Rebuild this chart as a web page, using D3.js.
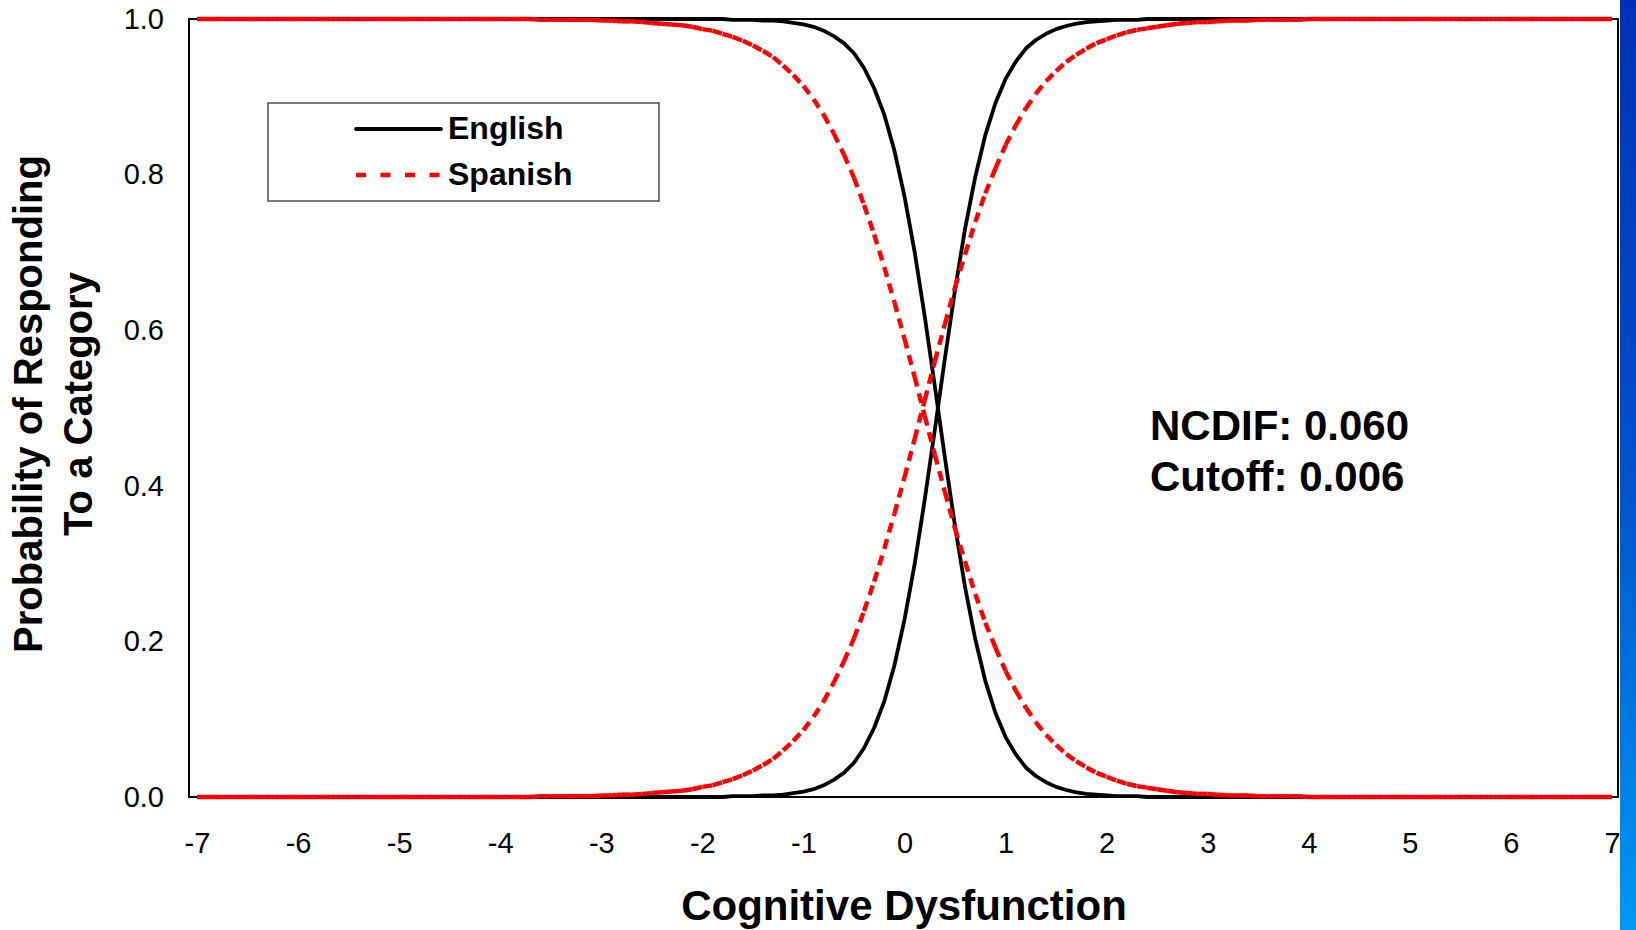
<!DOCTYPE html>
<html>
<head>
    <meta charset="utf-8">
    <title>Category Response Curves</title>
    <script src="https://d3js.org/d3.v7.min.js"></script>
    <style>
        body {
            margin: 0;
            background: #fff;
            overflow: hidden;
        }
        svg text {
            font-family: "Liberation Sans", Arial, sans-serif;
            fill: #000;
        }
        .tick text {
            font-size: 29px;
        }
        .title {
            font-weight: bold;
        }
    </style>
</head>
<body>
    <svg width="1636" height="930" id="chart"></svg>

    <script>
        // Theta grid (category axis, step 0.1)
        const theta = [
            -7.0, -6.9, -6.8, -6.7, -6.6, -6.5, -6.4, -6.3, -6.2, -6.1,
            -6.0, -5.9, -5.8, -5.7, -5.6, -5.5, -5.4, -5.3, -5.2, -5.1,
            -5.0, -4.9, -4.8, -4.7, -4.6, -4.5, -4.4, -4.3, -4.2, -4.1,
            -4.0, -3.9, -3.8, -3.7, -3.6, -3.5, -3.4, -3.3, -3.2, -3.1,
            -3.0, -2.9, -2.8, -2.7, -2.6, -2.5, -2.4, -2.3, -2.2, -2.1,
            -2.0, -1.9, -1.8, -1.7, -1.6, -1.5, -1.4, -1.3, -1.2, -1.1,
            -1.0, -0.9, -0.8, -0.7, -0.6, -0.5, -0.4, -0.3, -0.2, -0.1,
            0.0, 0.1, 0.2, 0.3, 0.4, 0.5, 0.6, 0.7, 0.8, 0.9,
            1.0, 1.1, 1.2, 1.3, 1.4, 1.5, 1.6, 1.7, 1.8, 1.9,
            2.0, 2.1, 2.2, 2.3, 2.4, 2.5, 2.6, 2.7, 2.8, 2.9,
            3.0, 3.1, 3.2, 3.3, 3.4, 3.5, 3.6, 3.7, 3.8, 3.9,
            4.0, 4.1, 4.2, 4.3, 4.4, 4.5, 4.6, 4.7, 4.8, 4.9,
            5.0, 5.1, 5.2, 5.3, 5.4, 5.5, 5.6, 5.7, 5.8, 5.9,
            6.0, 6.1, 6.2, 6.3, 6.4, 6.5, 6.6, 6.7, 6.8, 6.9,
            7.0
        ];

        // English: category 1 (falling) and category 2 (rising)
        const englishLow = [
            1, 1, 1, 1, 1, 1, 1, 1, 1, 1,
            1, 1, 1, 1, 1, 1, 1, 1, 1, 1,
            1, 1, 1, 1, 1, 1, 1, 1, 1, 1,
            1, 1, 1, 1, 1, 1, 1, 1, 1, 1,
            1, 1, 1, 1, 1, 1, 1, 1, 1, 1,
            1, 1, 1, .999, .999, .999, .998, .998, .997, .995,
            .993, .990, .985, .978, .969, .956, .937, .911, .877, .831,
            .772, .701, .618, .528, .436, .348, .269, .203, .149, .108,
            .077, .055, .038, .027, .019, .013, .009, .006, .004, .003,
            .002, .001, .001, .001, 0, 0, 0, 0, 0, 0,
            0, 0, 0, 0, 0, 0, 0, 0, 0, 0,
            0, 0, 0, 0, 0, 0, 0, 0, 0, 0,
            0, 0, 0, 0, 0, 0, 0, 0, 0, 0,
            0, 0, 0, 0, 0, 0, 0, 0, 0, 0,
            0
        ];
        const englishHigh = [
            0, 0, 0, 0, 0, 0, 0, 0, 0, 0,
            0, 0, 0, 0, 0, 0, 0, 0, 0, 0,
            0, 0, 0, 0, 0, 0, 0, 0, 0, 0,
            0, 0, 0, 0, 0, 0, 0, 0, 0, 0,
            0, 0, 0, 0, 0, 0, 0, 0, 0, 0,
            0, 0, 0, .001, .001, .001, .002, .002, .003, .005,
            .007, .010, .015, .022, .031, .044, .063, .089, .123, .169,
            .228, .299, .382, .472, .564, .652, .731, .797, .851, .892,
            .923, .945, .962, .973, .981, .987, .991, .994, .996, .997,
            .998, .999, .999, .999, 1, 1, 1, 1, 1, 1,
            1, 1, 1, 1, 1, 1, 1, 1, 1, 1,
            1, 1, 1, 1, 1, 1, 1, 1, 1, 1,
            1, 1, 1, 1, 1, 1, 1, 1, 1, 1,
            1, 1, 1, 1, 1, 1, 1, 1, 1, 1,
            1
        ];

        // Spanish: category 1 (falling) and category 2 (rising)
        const spanishLow = [
            1, 1, 1, 1, 1, 1, 1, 1, 1, 1,
            1, 1, 1, 1, 1, 1, 1, 1, 1, 1,
            1, 1, 1, 1, 1, 1, 1, 1, 1, 1,
            1, 1, 1, 1, .999, .999, .999, .999, .999, .999,
            .998, .998, .997, .997, .996, .995, .994, .993, .992, .990,
            .987, .985, .981, .977, .972, .966, .959, .951, .940, .928,
            .914, .897, .877, .853, .826, .796, .761, .723, .681, .636,
            .589, .540, .490, .440, .392, .345, .302, .261, .224, .192,
            .162, .137, .115, .096, .080, .067, .055, .046, .038, .031,
            .026, .021, .017, .014, .012, .010, .008, .006, .005, .004,
            .004, .003, .002, .002, .002, .001, .001, .001, .001, .001,
            0, 0, 0, 0, 0, 0, 0, 0, 0, 0,
            0, 0, 0, 0, 0, 0, 0, 0, 0, 0,
            0, 0, 0, 0, 0, 0, 0, 0, 0, 0,
            0
        ];
        const spanishHigh = [
            0, 0, 0, 0, 0, 0, 0, 0, 0, 0,
            0, 0, 0, 0, 0, 0, 0, 0, 0, 0,
            0, 0, 0, 0, 0, 0, 0, 0, 0, 0,
            0, 0, 0, 0, .001, .001, .001, .001, .001, .001,
            .002, .002, .003, .003, .004, .005, .006, .007, .008, .010,
            .013, .015, .019, .023, .028, .034, .041, .049, .060, .072,
            .086, .103, .123, .147, .174, .204, .239, .277, .319, .364,
            .411, .460, .510, .560, .608, .655, .698, .739, .776, .808,
            .838, .863, .885, .904, .920, .933, .945, .954, .962, .969,
            .974, .979, .983, .986, .988, .990, .992, .994, .995, .996,
            .996, .997, .998, .998, .998, .999, .999, .999, .999, .999,
            1, 1, 1, 1, 1, 1, 1, 1, 1, 1,
            1, 1, 1, 1, 1, 1, 1, 1, 1, 1,
            1, 1, 1, 1, 1, 1, 1, 1, 1, 1,
            1
        ];

        const xTicks = [-7, -6, -5, -4, -3, -2, -1, 0, 1, 2, 3, 4, 5, 6, 7];
        const yTicks = [0, 0.2, 0.4, 0.6, 0.8, 1.0];
        const legendLabels = ["English", "Spanish"];
        const noteLines = ["NCDIF: 0.060", "Cutoff: 0.006"];

        // Layout
        const frame = { left: 189, right: 1618, top: 19, bottom: 797 };
        const svg = d3.select("#chart");

        const x = d3.scaleLinear().domain([-7, 7]).range([197, 1612]);
        const y = d3.scaleLinear().domain([0, 1]).range([frame.bottom, frame.top]);

        // Blue strip at right edge (slide background)
        const grad = svg.append("defs").append("linearGradient")
            .attr("id", "blueStrip")
            .attr("x1", 0).attr("y1", 0).attr("x2", 0).attr("y2", 1);
        grad.append("stop").attr("offset", "0%").attr("stop-color", "#0030b6");
        grad.append("stop").attr("offset", "50%").attr("stop-color", "#0050cc");
        grad.append("stop").attr("offset", "100%").attr("stop-color", "#0098f2");
        svg.append("rect")
            .attr("x", 1620).attr("y", 0)
            .attr("width", 16).attr("height", 930)
            .attr("fill", "url(#blueStrip)");

        // Plot frame
        svg.append("rect")
            .attr("x", frame.left).attr("y", frame.top)
            .attr("width", frame.right - frame.left)
            .attr("height", frame.bottom - frame.top)
            .attr("fill", "none")
            .attr("stroke", "#000")
            .attr("stroke-width", 2);

        // Axes (labels only, no tick marks); plain hyphen for negatives
        const xAxis = svg.append("g")
            .attr("transform", `translate(0,${frame.bottom})`)
            .call(d3.axisBottom(x).tickValues(xTicks).tickSize(0).tickPadding(35)
                .tickFormat(d => String(d)));
        xAxis.select(".domain").remove();

        const yAxis = svg.append("g")
            .attr("transform", `translate(${frame.left},0)`)
            .call(d3.axisLeft(y).tickValues(yTicks).tickSize(0).tickPadding(25)
                .tickFormat(d => d.toFixed(1)));
        yAxis.select(".domain").remove();
        svg.selectAll(".tick text").attr("font-family", null).attr("font-size", null);

        // Curves
        const line = d3.line().x(d => x(d[0])).y(d => y(d[1]));
        const toPoints = vals => theta.map((t, i) => [t, vals[i]]);

        [englishLow, englishHigh].forEach(vals => {
            svg.append("path")
                .datum(toPoints(vals))
                .attr("d", line)
                .attr("fill", "none")
                .attr("stroke", "#000")
                .attr("stroke-width", 3.8)
                .attr("stroke-linejoin", "round");
        });

        // Spanish: dash pattern restarts at every data point, like the original
        [spanishLow, spanishHigh].forEach(vals => {
            svg.append("g")
                .selectAll("path")
                .data(d3.pairs(toPoints(vals)))
                .enter().append("path")
                .attr("d", d => line(d))
                .attr("fill", "none")
                .attr("stroke", "#ff0000")
                .attr("stroke-width", 4.5)
                .attr("stroke-dasharray", "10,7");
        });

        // Legend
        const legend = svg.append("g");
        legend.append("rect")
            .attr("x", 268).attr("y", 103)
            .attr("width", 391).attr("height", 98)
            .attr("fill", "#fff")
            .attr("stroke", "#222")
            .attr("stroke-width", 1.2);

        legendLabels.forEach((label, i) => {
            const ly = 129 + i * 46;
            legend.append("line")
                .attr("x1", 356).attr("x2", 441)
                .attr("y1", ly).attr("y2", ly)
                .attr("stroke", i === 0 ? "#000" : "#ff0000")
                .attr("stroke-width", i === 0 ? 3.8 : 4.5)
                .attr("stroke-linecap", i === 0 ? "round" : "butt")
                .attr("stroke-dasharray", i === 0 ? null : "10,14.5");
            legend.append("text")
                .attr("class", "title")
                .attr("x", 448).attr("y", ly + 10)
                .attr("font-size", "32px")
                .text(label);
        });

        // NCDIF annotation
        noteLines.forEach((txt, i) => {
            svg.append("text")
                .attr("class", "title")
                .attr("x", 1150).attr("y", 440 + i * 51)
                .attr("font-size", "42px")
                .text(txt);
        });

        // Axis titles
        svg.append("text")
            .attr("class", "title")
            .attr("x", 904).attr("y", 920)
            .attr("text-anchor", "middle")
            .attr("font-size", "42px")
            .text("Cognitive Dysfunction");

        ["Probability of Responding", "To a Category"].forEach((txt, i) => {
            svg.append("text")
                .attr("class", "title")
                .attr("transform", `translate(${42 + i * 50},404) rotate(-90)`)
                .attr("text-anchor", "middle")
                .attr("font-size", "40px")
                .text(txt);
        });
    </script>
</body>
</html>
